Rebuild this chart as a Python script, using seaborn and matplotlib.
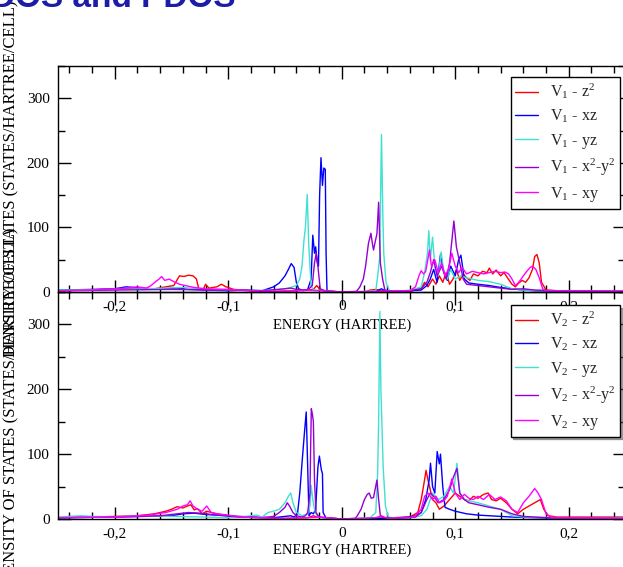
import numpy as np
import pandas as pd
import matplotlib
matplotlib.use("Agg")
import matplotlib.pyplot as plt
from matplotlib.ticker import MultipleLocator, FuncFormatter
import seaborn as sns

# ---------------- data ----------------
orbitals = ["z2", "xz", "yz", "x2-y2", "xy"]
colors = ["#ff0000", "#0000ff", "#40e0d0", "#9400d3", "#ff00ff"]
labels_v1 = [r"V$_1$ - z$^2$", r"V$_1$ - xz", r"V$_1$ - yz", r"V$_1$ - x$^2$-y$^2$", r"V$_1$ - xy"]
labels_v2 = [r"V$_2$ - z$^2$", r"V$_2$ - xz", r"V$_2$ - yz", r"V$_2$ - x$^2$-y$^2$", r"V$_2$ - xy"]
xticks_vals = [-0.2, -0.1, 0.0, 0.1, 0.2]
yticks_vals = [0, 100, 200, 300]

# V1 (top panel)
v1_z2_e = [-0.25, -0.23, -0.21, -0.19, -0.175, -0.165, -0.155, -0.148, -0.143, -0.139, -0.135, -0.131, -0.128, -0.126, -0.122, -0.12, -0.117, -0.11, -0.106, -0.102, -0.095, -0.08, -0.06, -0.04, -0.03, -0.025, -0.022, -0.019, -0.01, 0.0, 0.02, 0.025, 0.03, 0.035, 0.045, 0.055, 0.06, 0.065, 0.07, 0.073, 0.076, 0.08, 0.083, 0.086, 0.089, 0.092, 0.095, 0.098, 0.101, 0.104, 0.107, 0.11, 0.113, 0.116, 0.12, 0.124, 0.128, 0.13, 0.133, 0.136, 0.14, 0.143, 0.146, 0.15, 0.153, 0.156, 0.159, 0.162, 0.165, 0.168, 0.17, 0.172, 0.174, 0.176, 0.18, 0.19, 0.21, 0.25]
v1_z2_d = [2, 3, 4, 5, 6, 5, 8, 10, 25, 24, 26, 25, 20, 5, 4, 12, 6, 8, 12, 8, 4, 2, 1, 2, 3, 4, 10, 3, 1, 0, 0, 3, 4, 2, 1, 0, 1, 3, 5, 15, 8, 20, 12, 25, 15, 30, 12, 20, 35, 18, 28, 22, 18, 28, 25, 32, 30, 37, 28, 34, 25, 30, 22, 12, 8, 14, 18, 15, 22, 35, 55, 58, 45, 15, 3, 2, 1, 1]

v1_xz_e = [-0.25, -0.22, -0.2, -0.19, -0.183, -0.175, -0.16, -0.145, -0.135, -0.12, -0.1, -0.085, -0.07, -0.065, -0.06, -0.055, -0.05, -0.047, -0.0445, -0.042, -0.04, -0.038, -0.034, -0.03, -0.027, -0.0255, -0.024, -0.023, -0.0215, -0.0205, -0.0195, -0.0183, -0.017, -0.0158, -0.0145, -0.0138, -0.013, -0.01, 0.0, 0.02, 0.03, 0.035, 0.038, 0.045, 0.06, 0.07, 0.075, 0.078, 0.081, 0.084, 0.087, 0.09, 0.093, 0.096, 0.1, 0.103, 0.105, 0.108, 0.112, 0.12, 0.13, 0.14, 0.15, 0.16, 0.17, 0.19, 0.25]
v1_xz_d = [3, 4, 5, 8, 7, 4, 5, 6, 4, 3, 2, 3, 2, 5, 8, 14, 25, 35, 44, 38, 15, 5, 2, 4, 20, 88, 60, 70, 45, 40, 150, 208, 165, 192, 190, 60, 2, 1, 0, 0, 1, 5, 2, 1, 2, 3, 10, 20, 35, 15, 58, 30, 18, 40, 25, 50, 57, 20, 14, 12, 10, 7, 5, 3, 2, 1, 1]

v1_yz_e = [-0.25, -0.2, -0.17, -0.14, -0.12, -0.1, -0.08, -0.06, -0.05, -0.045, -0.04, -0.037, -0.035, -0.0333, -0.032, -0.0304, -0.029, -0.027, -0.025, -0.015, 0.0, 0.02, 0.03, 0.032, 0.0335, 0.035, 0.0362, 0.037, 0.039, 0.042, 0.05, 0.06, 0.065, 0.07, 0.073, 0.0755, 0.0767, 0.078, 0.08, 0.082, 0.085, 0.0876, 0.09, 0.093, 0.096, 0.1, 0.105, 0.11, 0.115, 0.12, 0.13, 0.14, 0.15, 0.16, 0.18, 0.25]
v1_yz_d = [3, 4, 5, 7, 4, 3, 2, 3, 5, 7, 10, 20, 40, 80, 100, 151, 70, 10, 3, 2, 0, 1, 2, 30, 55, 244, 120, 60, 15, 2, 1, 3, 5, 8, 30, 60, 95, 50, 85, 40, 25, 62, 30, 20, 35, 20, 25, 22, 20, 18, 16, 12, 5, 3, 2, 1]

v1_x2y2_e = [-0.25, -0.2, -0.15, -0.1, -0.07, -0.05, -0.045, -0.04, -0.03, -0.026, -0.024, -0.0225, -0.021, -0.019, -0.015, 0.0, 0.013, 0.016, 0.019, 0.021, 0.0235, 0.0257, 0.027, 0.028, 0.0295, 0.031, 0.0325, 0.034, 0.036, 0.038, 0.045, 0.06, 0.07, 0.075, 0.078, 0.081, 0.084, 0.088, 0.092, 0.095, 0.0988, 0.101, 0.104, 0.107, 0.11, 0.12, 0.13, 0.14, 0.15, 0.16, 0.17, 0.19, 0.25]
v1_x2y2_d = [2, 3, 4, 3, 2, 5, 6, 4, 3, 10, 45, 60, 40, 5, 2, 0, 1, 8, 20, 40, 75, 91, 75, 65, 78, 90, 139, 45, 20, 3, 1, 2, 5, 15, 30, 50, 25, 40, 20, 45, 110, 70, 45, 20, 12, 10, 8, 6, 4, 5, 3, 2, 1]

v1_xy_e = [-0.25, -0.22, -0.2, -0.19, -0.18, -0.172, -0.168, -0.164, -0.161, -0.1587, -0.156, -0.152, -0.148, -0.143, -0.138, -0.13, -0.12, -0.1, -0.08, -0.06, -0.04, -0.03, -0.02, 0.0, 0.03, 0.06, 0.065, 0.068, 0.07, 0.072, 0.074, 0.0773, 0.079, 0.082, 0.085, 0.088, 0.091, 0.094, 0.097, 0.1, 0.103, 0.106, 0.11, 0.115, 0.12, 0.125, 0.13, 0.135, 0.14, 0.1437, 0.147, 0.15, 0.153, 0.156, 0.16, 0.163, 0.166, 0.168, 0.171, 0.174, 0.177, 0.18, 0.25]
v1_xy_d = [2, 3, 5, 6, 8, 6, 10, 16, 20, 24, 18, 20, 16, 12, 10, 7, 5, 4, 2, 1, 2, 3, 2, 0, 1, 2, 8, 25, 33, 28, 32, 65, 40, 50, 30, 45, 25, 35, 60, 40, 30, 38, 28, 32, 30, 28, 30, 32, 30, 31, 28, 20, 10, 15, 25, 32, 38, 40, 35, 22, 5, 2, 1]

# V2 (bottom panel)
v2_z2_e = [-0.25, -0.22, -0.2, -0.18, -0.165, -0.155, -0.15, -0.145, -0.14, -0.136, -0.133, -0.13, -0.127, -0.123, -0.119, -0.115, -0.11, -0.1, -0.09, -0.07, -0.05, -0.03, -0.025, -0.022, -0.01, 0.0, 0.03, 0.045, 0.06, 0.067, 0.07, 0.072, 0.0743, 0.076, 0.078, 0.08, 0.083, 0.086, 0.09, 0.095, 0.1, 0.104, 0.108, 0.112, 0.116, 0.12, 0.125, 0.129, 0.132, 0.136, 0.14, 0.145, 0.15, 0.155, 0.16, 0.165, 0.17, 0.175, 0.178, 0.182, 0.19, 0.25]
v2_z2_d = [2, 3, 4, 5, 8, 12, 15, 19, 17, 20, 22, 14, 16, 8, 12, 10, 8, 5, 3, 2, 1, 2, 5, 3, 1, 0, 1, 2, 3, 10, 30, 50, 75, 60, 45, 30, 25, 15, 20, 30, 40, 35, 30, 28, 35, 32, 38, 40, 30, 28, 32, 25, 15, 8, 15, 20, 25, 30, 15, 5, 3, 3]

v2_xz_e = [-0.25, -0.2, -0.15, -0.14, -0.13, -0.12, -0.1, -0.08, -0.06, -0.05, -0.045, -0.042, -0.039, -0.037, -0.0348, -0.033, -0.0313, -0.03, -0.0289, -0.027, -0.025, -0.023, -0.021, -0.0197, -0.018, -0.017, -0.0164, -0.014, 0.0, 0.03, 0.04, 0.05, 0.06, 0.065, 0.07, 0.074, 0.077, 0.0782, 0.08, 0.082, 0.0841, 0.086, 0.087, 0.089, 0.091, 0.095, 0.1, 0.11, 0.12, 0.13, 0.14, 0.15, 0.17, 0.2, 0.25]
v2_xz_d = [2, 3, 5, 8, 9, 7, 5, 3, 2, 4, 5, 3, 8, 40, 91, 130, 165, 80, 5, 10, 8, 15, 80, 97, 76, 70, 10, 2, 0, 1, 1, 2, 3, 5, 10, 30, 60, 86, 50, 40, 104, 85, 100, 50, 18, 15, 12, 8, 6, 5, 4, 3, 2, 1, 1]

v2_yz_e = [-0.25, -0.23, -0.22, -0.2, -0.18, -0.15, -0.12, -0.1, -0.085, -0.075, -0.07, -0.065, -0.06, -0.055, -0.05, -0.047, -0.045, -0.043, -0.04, -0.035, -0.03, -0.028, -0.027, -0.0255, -0.024, -0.022, -0.018, 0.0, 0.025, 0.03, 0.0316, 0.0325, 0.0336, 0.0345, 0.0365, 0.0385, 0.041, 0.05, 0.06, 0.07, 0.075, 0.08, 0.085, 0.09, 0.095, 0.0985, 0.1015, 0.104, 0.108, 0.112, 0.12, 0.13, 0.14, 0.145, 0.15, 0.16, 0.2, 0.25]
v2_yz_d = [3, 5, 4, 3, 5, 4, 3, 2, 4, 6, 3, 10, 12, 15, 25, 35, 40, 25, 10, 5, 8, 20, 52, 30, 15, 5, 2, 0, 2, 10, 70, 150, 320, 200, 80, 20, 3, 1, 2, 5, 15, 40, 30, 35, 50, 40, 86, 40, 30, 28, 25, 20, 15, 10, 5, 3, 2, 2]

v2_x2y2_e = [-0.25, -0.2, -0.16, -0.145, -0.135, -0.125, -0.11, -0.09, -0.07, -0.06, -0.055, -0.05, -0.048, -0.046, -0.043, -0.04, -0.035, -0.032, -0.03, -0.029, -0.028, -0.0275, -0.0268, -0.0258, -0.025, -0.024, -0.0227, -0.02, 0.0, 0.012, 0.0137, 0.017, 0.02, 0.0225, 0.0242, 0.026, 0.028, 0.031, 0.0325, 0.034, 0.037, 0.05, 0.065, 0.07, 0.075, 0.078, 0.081, 0.085, 0.09, 0.095, 0.0985, 0.1015, 0.104, 0.108, 0.112, 0.12, 0.13, 0.14, 0.15, 0.16, 0.18, 0.25]
v2_x2y2_d = [2, 3, 5, 8, 10, 9, 6, 3, 2, 4, 10, 18, 25, 20, 10, 5, 3, 5, 10, 25, 40, 100, 170, 161, 150, 60, 10, 3, 0, 1, 5, 15, 30, 38, 40, 32, 33, 60, 30, 5, 2, 1, 3, 10, 30, 40, 35, 25, 30, 45, 65, 78, 40, 30, 25, 22, 18, 15, 8, 4, 2, 1]

v2_xy_e = [-0.25, -0.2, -0.17, -0.155, -0.145, -0.14, -0.136, -0.1336, -0.131, -0.127, -0.123, -0.119, -0.115, -0.11, -0.1, -0.09, -0.07, -0.05, -0.03, -0.02, 0.0, 0.03, 0.035, 0.04, 0.06, 0.065, 0.07, 0.073, 0.076, 0.08, 0.083, 0.086, 0.09, 0.093, 0.097, 0.1, 0.104, 0.108, 0.112, 0.116, 0.12, 0.125, 0.13, 0.135, 0.14, 0.145, 0.15, 0.155, 0.16, 0.165, 0.17, 0.173, 0.176, 0.18, 0.185, 0.25]
v2_xy_d = [2, 3, 6, 10, 15, 20, 22, 28, 20, 15, 12, 20, 10, 8, 6, 3, 2, 1, 2, 3, 0, 2, 5, 1, 2, 5, 15, 35, 40, 30, 35, 25, 28, 35, 62, 40, 30, 38, 32, 30, 35, 30, 38, 30, 34, 28, 15, 10, 25, 35, 47, 40, 30, 8, 2, 1]

v1_series = [(v1_z2_e, v1_z2_d), (v1_xz_e, v1_xz_d), (v1_yz_e, v1_yz_d), (v1_x2y2_e, v1_x2y2_d), (v1_xy_e, v1_xy_d)]
v2_series = [(v2_z2_e, v2_z2_d), (v2_xz_e, v2_xz_d), (v2_yz_e, v2_yz_d), (v2_x2y2_e, v2_x2y2_d), (v2_xy_e, v2_xy_d)]


def to_frame(series, labels):
    parts = []
    for (e, d), lab in zip(series, labels):
        parts.append(pd.DataFrame({"energy": e, "dos": d, "orbital": lab}))
    return pd.concat(parts, ignore_index=True)


df1 = to_frame(v1_series, labels_v1)
df2 = to_frame(v2_series, labels_v2)

# ---------------- style ----------------
sns.set_theme(style="ticks")
plt.rcParams["font.family"] = ["Liberation Serif", "DejaVu Serif"]
plt.rcParams["mathtext.fontset"] = "custom"
plt.rcParams["mathtext.rm"] = "Liberation Serif"
plt.rcParams["mathtext.it"] = "Liberation Serif:italic"
plt.rcParams["mathtext.bf"] = "Liberation Serif:bold"

W, H = 623, 567
fig = plt.figure(figsize=(W / 100, H / 100), dpi=100)

left = 58 / W
width = 1.0 - left + 0.004
ax1 = fig.add_axes([left, 1 - 292 / H, width, (292 - 66) / H])
ax2 = fig.add_axes([left, 1 - 519 / H, width, (519 - 292) / H])
ax1.set_facecolor("none")
ax2.set_facecolor("none")
ax1.set_zorder(2)
ax2.set_zorder(3)

fmt = FuncFormatter(lambda v, p: "0" if abs(v) < 1e-9 else f"{v:.1f}".replace(".", ","))

for ax, df, labs in [(ax1, df1, labels_v1), (ax2, df2, labels_v2)]:
    sns.lineplot(data=df, x="energy", y="dos", hue="orbital", hue_order=labs,
                 palette=colors, estimator=None, linewidth=1.0, ax=ax, legend=True)
    ax.set_xlim(-0.25, 0.25)
    ax.set_ylim(0, 350)
    ax.set_xticks(xticks_vals)
    ax.set_yticks(yticks_vals)
    ax.xaxis.set_minor_locator(MultipleLocator(0.02))
    ax.yaxis.set_minor_locator(MultipleLocator(50))
    ax.xaxis.set_major_formatter(fmt)
    ax.tick_params(which="both", direction="in", top=True, right=True,
                   colors="black", labelsize=11, width=1.0)
    ax.tick_params(which="major", length=9)
    ax.tick_params(which="minor", length=5)
    ax.tick_params(axis="x", pad=6)
    ax.tick_params(axis="y", pad=6)
    for sp in ax.spines.values():
        sp.set_color("black")
        sp.set_linewidth(1.0)
    ax.set_xlabel("ENERGY (HARTREE)", fontsize=10.5, color="black")
    ax.set_ylabel("DENSITY OF STATES (STATES/HARTREE/CELL)", fontsize=12, color="black")
    ax.yaxis.set_label_coords(-0.068, 0.5)

ax1.xaxis.set_label_coords(0.5, -0.118)
ax2.xaxis.set_label_coords(0.5, -0.108)

legend_kw = dict(title=None, frameon=True, fancybox=False, fontsize=11.5,
                 labelspacing=0.4, handlelength=1.4, handletextpad=0.75,
                 borderpad=0.3, borderaxespad=0, framealpha=1, edgecolor="black")
sns.move_legend(ax1, "upper right", bbox_to_anchor=(620 / W, 1 - 77 / H),
                bbox_transform=fig.transFigure, **legend_kw)
sns.move_legend(ax2, "upper right", bbox_to_anchor=(620 / W, 1 - 305 / H),
                bbox_transform=fig.transFigure, shadow=True, **legend_kw)
for ax in (ax1, ax2):
    leg = ax.get_legend()
    leg.get_frame().set_linewidth(1.0)
    for h in leg.legend_handles:
        h.set_linewidth(1.0)

fig.text(235 / W, 1 - 7 / H, "DOS and PDOS", ha="right", va="baseline",
         fontsize=24, fontweight="bold", color="#1c1ca8", family="Liberation Sans")

fig.savefig("out.png", dpi=100)
